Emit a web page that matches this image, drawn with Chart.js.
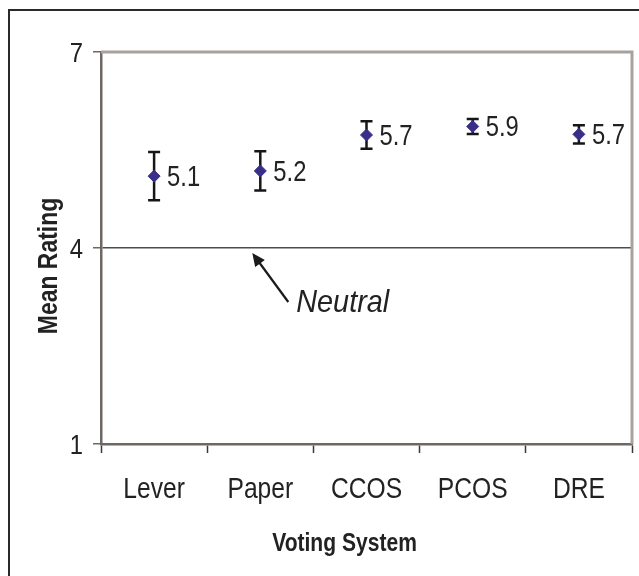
<!DOCTYPE html>
<html><head><meta charset="utf-8">
<script src="https://cdn.jsdelivr.net/npm/chart.js@4"></script>
<style>html,body{margin:0;padding:0;background:#fff}#wrap{width:639px;height:576px;position:relative}</style>
</head><body><div id="wrap"><canvas id="c" width="639" height="576"></canvas></div>
<script>
const categories = ['Lever', 'Paper', 'CCOS', 'PCOS', 'DRE'];
const means = [5.10, 5.18, 5.73, 5.86, 5.74];
const errors = [0.37, 0.30, 0.21, 0.115, 0.14];
const yTicks = [1, 4, 7];
const neutralValue = 4;
const neutralText = 'Neutral';
const xTitle = 'Voting System';
const yTitle = 'Mean Rating';

const FONT = "'Liberation Sans',Arial,sans-serif";
const TEXT = '#222';

// draw horizontally condensed text (reference uses a narrow face)
function narrowText(ctx, text, x, y, font, sx, align, baseline) {
  ctx.save();
  ctx.font = font;
  ctx.textAlign = align;
  ctx.textBaseline = baseline;
  ctx.translate(x, y);
  ctx.scale(sx, 1);
  ctx.fillText(text, 0, 0);
  ctx.restore();
}

const extras = {
  id: 'extras',
  beforeDraw(chart) {
    const ctx = chart.ctx;
    ctx.save();
    ctx.fillStyle = '#fff';
    ctx.fillRect(0, 0, chart.width, chart.height);
    ctx.strokeStyle = '#2a2a2a';
    ctx.lineWidth = 2;
    ctx.beginPath();
    ctx.moveTo(9, 700); ctx.lineTo(9, 10); ctx.lineTo(700, 10);
    ctx.stroke();
    ctx.restore();
  },
  beforeDatasetsDraw(chart) {
    const ctx = chart.ctx, xs = chart.scales.x, ys = chart.scales.y, a = chart.chartArea;
    ctx.save();
    ctx.strokeStyle = '#aaa19d';
    ctx.lineWidth = 3;
    ctx.beginPath();
    ctx.moveTo(a.left, a.top); ctx.lineTo(a.right, a.top); ctx.lineTo(a.right, a.bottom);
    ctx.stroke();
    ctx.strokeStyle = '#161616';
    ctx.lineWidth = 2.5;
    means.forEach((m, i) => {
      const x = xs.getPixelForValue(i);
      const yt = ys.getPixelForValue(m + errors[i]);
      const yb = ys.getPixelForValue(m - errors[i]);
      ctx.beginPath();
      ctx.moveTo(x, yt); ctx.lineTo(x, yb);
      ctx.moveTo(x - 6, yt); ctx.lineTo(x + 6, yt);
      ctx.moveTo(x - 6, yb); ctx.lineTo(x + 6, yb);
      ctx.stroke();
    });
    ctx.restore();
  },
  afterDatasetsDraw(chart) {
    const ctx = chart.ctx, xs = chart.scales.x, ys = chart.scales.y, a = chart.chartArea;
    ctx.save();
    ctx.fillStyle = TEXT;
    // value labels
    means.forEach((m, i) => {
      narrowText(ctx, m.toFixed(1), xs.getPixelForValue(i) + 13, ys.getPixelForValue(m) + 10,
        '29px ' + FONT, 0.82, 'left', 'alphabetic');
    });
    // category labels
    categories.forEach((c, i) => {
      narrowText(ctx, c, xs.getPixelForValue(i), a.bottom + 54, '30px ' + FONT, 0.82, 'center', 'alphabetic');
    });
    // y tick labels
    yTicks.forEach(v => {
      narrowText(ctx, String(v), a.left - 18, ys.getPixelForValue(v) + 10, '28px ' + FONT, 0.85, 'right', 'alphabetic');
    });
    // arrow + Neutral
    const tx = xs.getPixelForValue(1) - 8, ty = ys.getPixelForValue(neutralValue) + 5;
    const ex = tx + 36, ey = ty + 49;
    ctx.strokeStyle = '#1a1a1a';
    ctx.lineWidth = 2.2;
    const ang = Math.atan2(ty - ey, tx - ex);
    const hx = tx - Math.cos(ang) * 9, hy = ty - Math.sin(ang) * 9;
    ctx.beginPath(); ctx.moveTo(ex, ey); ctx.lineTo(hx, hy); ctx.stroke();
    ctx.beginPath();
    ctx.moveTo(tx, ty);
    ctx.lineTo(tx - Math.cos(ang) * 13 + Math.sin(ang) * 6, ty - Math.sin(ang) * 13 - Math.cos(ang) * 6);
    ctx.lineTo(tx - Math.cos(ang) * 13 - Math.sin(ang) * 6, ty - Math.sin(ang) * 13 + Math.cos(ang) * 6);
    ctx.closePath();
    ctx.fillStyle = '#1a1a1a';
    ctx.fill();
    ctx.fillStyle = TEXT;
    narrowText(ctx, neutralText, tx + 44, ty + 59, 'italic 32px ' + FONT, 0.9, 'left', 'alphabetic');
    // axis titles
    narrowText(ctx, xTitle, (a.left + a.right) / 2 - 22, a.bottom + 107, 'bold 26px ' + FONT, 0.81, 'center', 'alphabetic');
    ctx.save();
    ctx.translate(a.left - 51, (a.top + a.bottom) / 2 + 18);
    ctx.rotate(-Math.PI / 2);
    narrowText(ctx, yTitle, 0, 0, 'bold 27px ' + FONT, 0.85, 'center', 'middle');
    ctx.restore();
    ctx.restore();
  }
};

new Chart(document.getElementById('c'), {
  type: 'line',
  data: {
    labels: categories,
    datasets: [{
      data: means,
      showLine: false,
      pointStyle: 'rectRot',
      pointRadius: 6,
      pointBackgroundColor: '#3a2f88',
      pointBorderColor: '#3a2f88',
      pointBorderWidth: 1
    }]
  },
  options: {
    responsive: false,
    devicePixelRatio: 1,
    animation: false,
    layout: { padding: { top: 52, right: 3, left: 0, bottom: 0 } },
    plugins: { legend: { display: false }, tooltip: { enabled: false }, title: { display: false } },
    scales: {
      x: {
        type: 'category',
        offset: true,
        grid: { offset: true, drawOnChartArea: false, tickLength: 9, tickColor: '#3a3a3a', tickWidth: 1.5 },
        border: { color: '#6f6763', width: 2.5 },
        ticks: { display: false },
        afterFit(s) { s.height = 132; }
      },
      y: {
        min: 1, max: 7,
        afterBuildTicks(s) { s.ticks = yTicks.map(v => ({ value: v })); },
        grid: {
          color: c => (c.tick && c.tick.value === neutralValue) ? '#4d4d4d' : 'rgba(0,0,0,0)',
          lineWidth: 1.5, tickLength: 8, tickColor: '#6f6763', tickWidth: 1.5
        },
        border: { color: '#6f6763', width: 2.5 },
        ticks: { display: false },
        afterFit(s) { s.width = 101; }
      }
    }
  },
  plugins: [extras]
});
</script></body></html>
